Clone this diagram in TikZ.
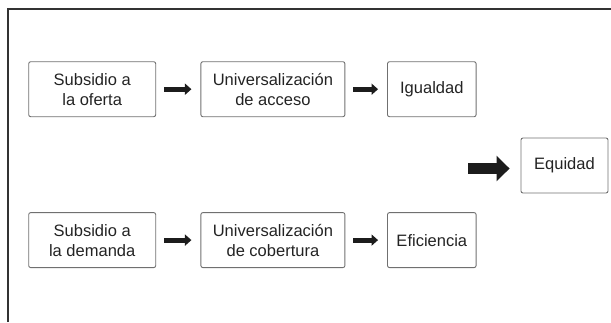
\documentclass[tikz,border=0pt]{standalone}
\usepackage{fontspec}
\setmainfont{Liberation Sans}
\usepackage{tikz}
\usetikzlibrary{arrows.meta,positioning}
\definecolor{boxgray}{RGB}{112,112,112}
\definecolor{textgray}{RGB}{35,35,35}
\definecolor{arrowgray}{RGB}{28,28,28}

\begin{document}
\begin{tikzpicture}[x=1pt,y=-1pt,node distance=44pt,
    box node/.style={draw=boxgray,line width=0.9pt,rounded corners=2pt,text=textgray,align=center,inner sep=0pt,minimum height=55pt,font=\fontsize{16.5}{20}\selectfont},
    small arrow/.style={arrowgray,line width=5pt,-{Triangle[length=6.5pt,width=11pt]},shorten <=8pt,shorten >=9pt},
    big arrow/.style={arrowgray,line width=10.7pt,-{Triangle[length=13pt,width=25pt]},shorten >=11pt}]
    \useasboundingbox (0,0) rectangle (611,322);
    \draw[line width=1.3pt,arrowgray!90] (8,322) |- (611,9);
    \node[box node,minimum width=127pt] (0) at (92.2,89.2) {Subsidio a\\la oferta};
    \node[box node,minimum width=144pt] (1) [right=44.3pt of 0] {Universalización\\de acceso};
    \node[box node,minimum width=88.6pt] (2) [right=41.7pt of 1] {Igualdad};
    \node[box node,minimum width=127pt] (3) [below=95pt of 0] {Subsidio a\\la demanda};
    \node[box node,minimum width=144pt] (4) [right=44.3pt of 3] {Universalización\\de cobertura};
    \node[box node,minimum width=88.6pt] (5) [right=41.7pt of 4] {Eficiencia};
    \node[box node,minimum width=87pt] (6) at (564.5,165.5) {Equidad};
    \coordinate (7) at (468,168.5);
    \draw[small arrow] (0) -- (1);
    \draw[small arrow] (1) -- (2);
    \draw[small arrow] (3) -- (4);
    \draw[small arrow] (4) -- (5);
    \draw[big arrow] (7) -- (7 -| 6.west);
\end{tikzpicture}
\end{document}
